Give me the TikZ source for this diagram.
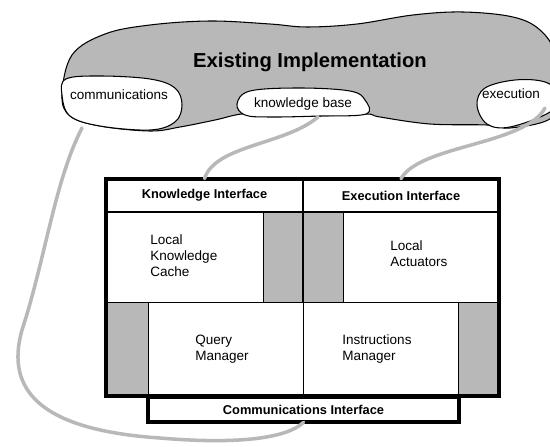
\documentclass[tikz,border=0pt]{standalone}
\usepackage{fontspec}
\setmainfont{Liberation Sans}
\begin{document}
\begin{tikzpicture}[x=0.02cm,y=-0.02cm,
  shade/.style={fill=black!28},
  blobline/.style={draw=black,line width=0.6pt},
  wire/.style={draw=black!28,line width=2pt,line cap=round},
  head/.style={font=\fontsize{7.3}{9}\selectfont\bfseries,inner sep=0pt},
  body/.style={font=\fontsize{7.7}{9.1}\selectfont,align=left,anchor=west,inner sep=0pt},
  small/.style={font=\fontsize{7.7}{9}\selectfont,inner sep=0pt}]
\useasboundingbox (0,0) rectangle (550,446);

\path[shade,blobline] plot[smooth cycle,tension=0.6] coordinates {
  (62,95) (72,55) (105,34) (150,25) (210,21) (270,24) (307,27) (357,24)
  (413,15) (463,12) (513,17) (540,30) (556,55) (562,100) (548,120)
  (510,128) (487,125) (430,124) (380,117) (366,114) (320,116) (265,116)
  (242,114) (215,120) (180,127) (150,131) (100,126) (70,116)};

\path[fill=white,blobline] plot[smooth cycle,tension=0.6] coordinates {
  (62,95) (66,79) (100,76) (150,79) (175,88) (182,105) (175,122)
  (150,130) (100,126) (70,116)};
\path[fill=white,blobline] plot[smooth cycle,tension=0.6] coordinates {
  (237,104) (250,91) (300,88) (350,91) (365,100) (366,114) (320,116)
  (270,117) (245,115)};
\path[fill=white,blobline] plot[smooth cycle,tension=0.6] coordinates {
  (477,105) (485,88) (515,80) (545,82) (560,95) (550,112) (510,127)
  (487,124)};

\node[font=\fontsize{11.5}{13}\selectfont\bfseries] (title) at (310,62) {Existing Implementation};
\node[small] (comm) at (119,95) {communications};
\node[small] (kb) at (303,104) {knowledge base};
\node[small] (exec) at (511,94) {execution};

\coordinate (commfoot) at (82,128);
\coordinate (kbfoot) at (318,117);
\coordinate (exfoot) at (545,108);

% main box
\fill[shade] (263,212) rectangle (343,302);
\fill[shade] (106,302) rectangle (148,396);
\fill[shade] (458,302) rectangle (499,396);
\draw[line width=0.5pt] (263,212) -- (263,302) (343,212) -- (343,302);
\draw[line width=0.5pt] (148,302) -- (148,396) (458,302) -- (458,396);
\draw[line width=0.5pt] (106,302) -- (499,302);
\draw[line width=0.5pt] (303,302) -- (303,396);
\draw[line width=1pt] (106,212) -- (499,212) (303,179) -- (303,302);
\draw[line width=2.2pt] (106,179) rectangle (499,396);
\draw[line width=2.2pt,fill=white] (148,397) rectangle (459,422);

\node[head,minimum width=197*0.02cm,minimum height=33*0.02cm] (kif) at (204.5,195.5) {Knowledge Interface};
\node[head,minimum width=196*0.02cm,minimum height=33*0.02cm] (eif) at (401,195.5) {Execution Interface};
\node[head,minimum width=311*0.02cm,minimum height=25*0.02cm] (cif) at (303.5,409.5) {Communications Interface};

\node[body] (cache) at (150,256) {Local\\Knowledge\\Cache};
\node[body] (act) at (390,254) {Local\\Actuators};
\node[body] (query) at (195,349) {Query\\Manager};
\node[body] (instr) at (342,349) {Instructions\\Manager};

% links to the existing implementation
\draw[wire] (commfoot) .. controls (55,180) and (45,260) .. (22,330)
  .. controls (5,390) and (40,430) .. (160,438)
  .. controls (230,444) and (285,440) .. (cif.south);
\draw[wire] (kbfoot) .. controls (285,145) and (215,145) .. (kif.north);
\draw[wire] (exfoot) .. controls (525,145) and (420,145) .. (eif.north);

\end{tikzpicture}
\end{document}
